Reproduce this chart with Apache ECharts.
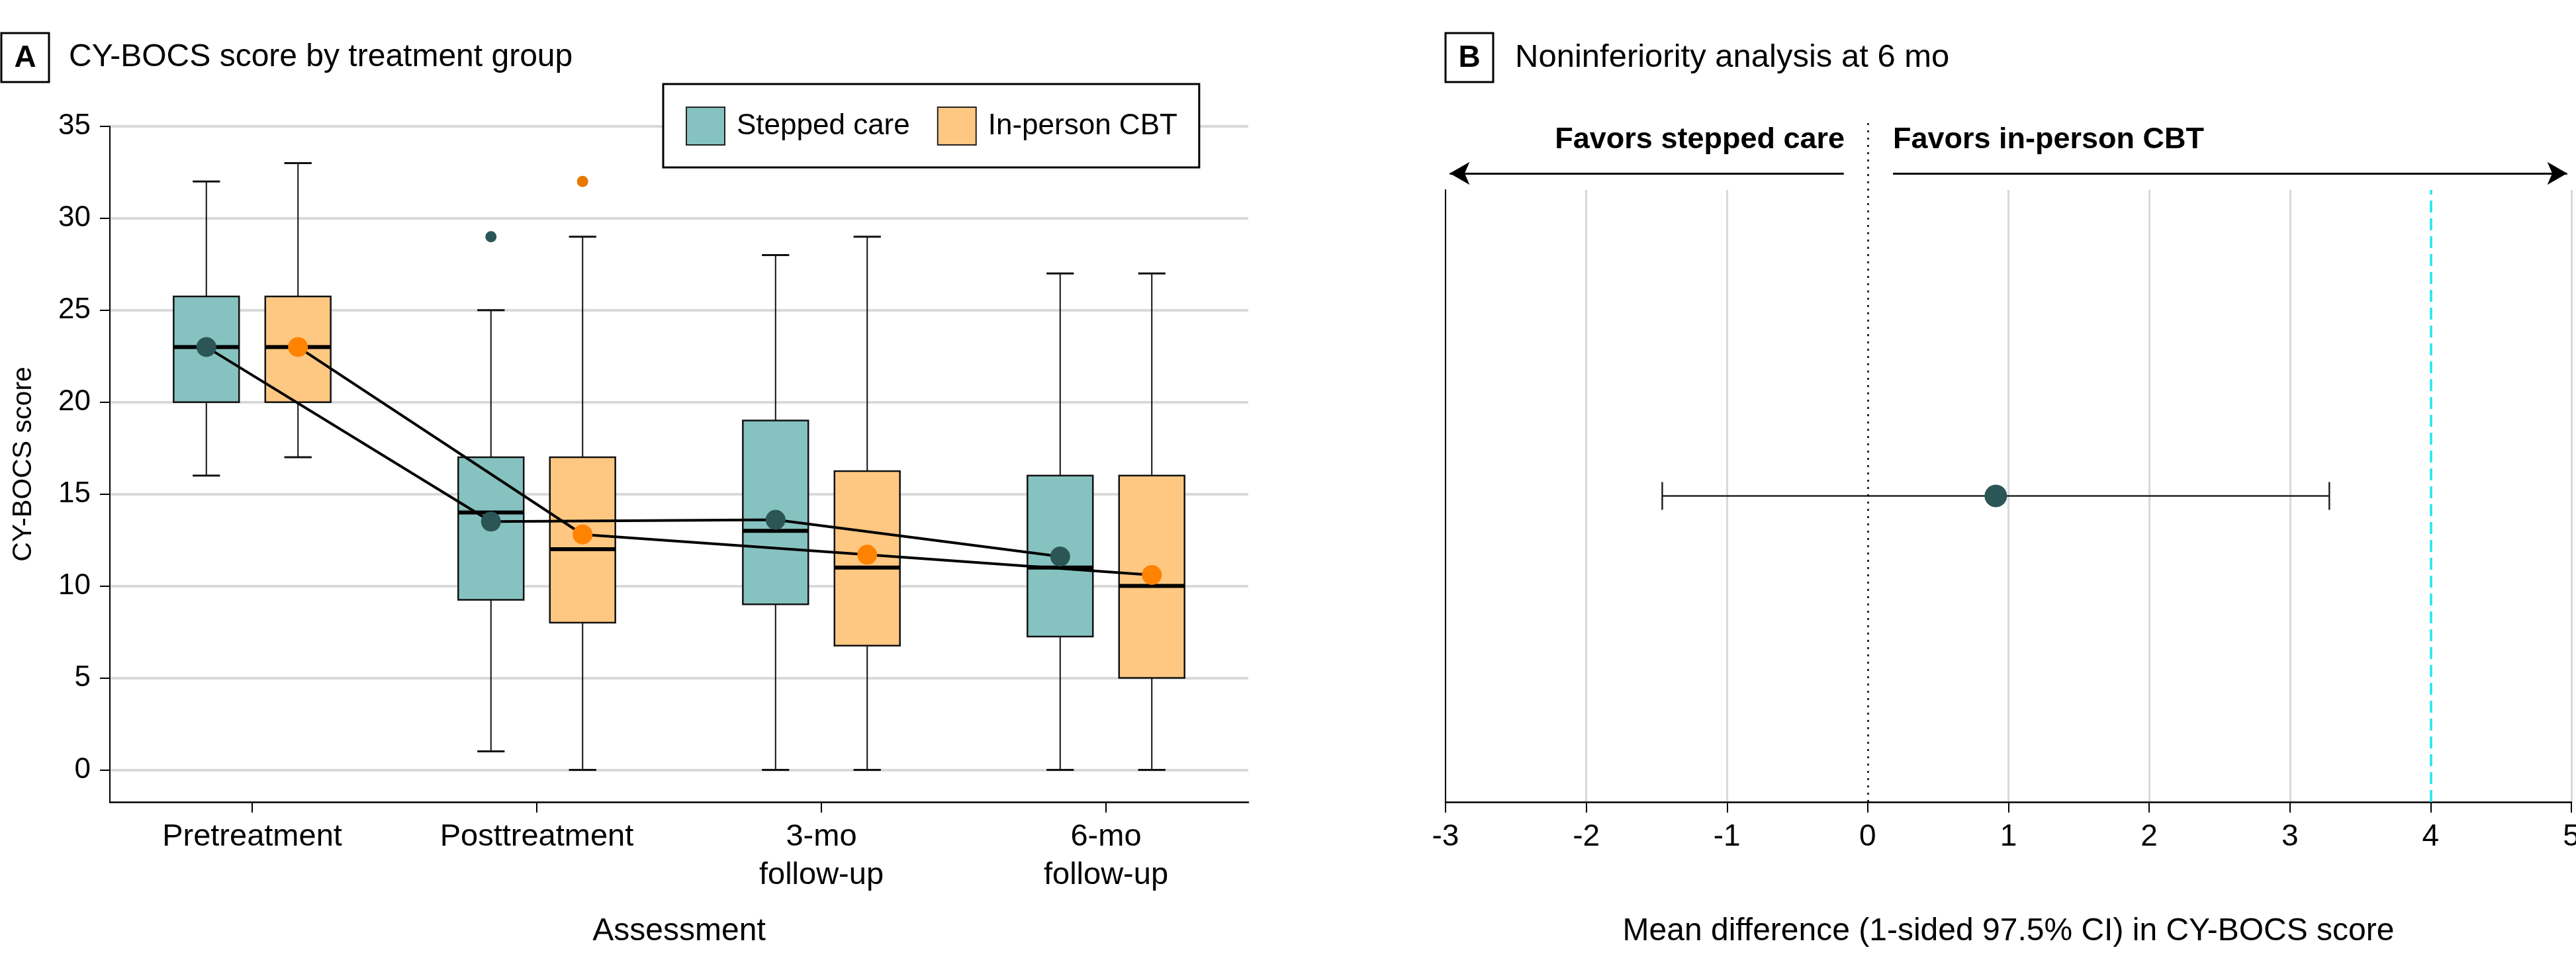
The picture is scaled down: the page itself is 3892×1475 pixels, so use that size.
<!DOCTYPE html>
<html>
<head>
<meta charset="utf-8">
<script src="https://cdn.jsdelivr.net/npm/echarts@6/dist/echarts.min.js"></script>
<style>
  html, body { margin: 0; padding: 0; background: #fff; }
  #chart { width: 3892px; height: 1475px; }
</style>
</head>
<body>
<div id="chart"></div>
<script>
// ---- data ----
const groups = ['Pretreatment', 'Posttreatment', '3-mo\nfollow-up', '6-mo\nfollow-up'];
const scoreTicks = [0, 5, 10, 15, 20, 25, 30, 35];

// stepped care: whisker low, Q1, median, Q3, whisker high, mean
const steppedLow = [16, 1, 0, 0];
const steppedQ1 = [20, 9.25, 9, 7.25];
const steppedMedian = [23, 14, 13, 11];
const steppedQ3 = [25.75, 17, 19, 16];
const steppedHigh = [32, 25, 28, 27];
const steppedMean = [23, 13.5, 13.6, 11.6];
const steppedOutliers = [[1, 29]]; // [group index, score]

// in-person CBT
const cbtLow = [17, 0, 0, 0];
const cbtQ1 = [20, 8, 6.75, 5];
const cbtMedian = [23, 12, 11, 10];
const cbtQ3 = [25.75, 17, 16.25, 16];
const cbtHigh = [33, 29, 29, 27];
const cbtMean = [23, 12.8, 11.7, 10.6];
const cbtOutliers = [[1, 32]];

// panel B: noninferiority at 6 mo
const diffTicks = [-3, -2, -1, 0, 1, 2, 3, 4, 5];
const diffEstimate = [0.91];
const diffLower = [-1.46];
const diffUpper = [3.28];
const niMargin = 4;

// ---- styling ----
const FONT = "'Liberation Sans', Arial, sans-serif";
const TEAL = '#86c2c0';
const ORANGE = '#fec882';
const TEAL_DARK = '#2b5655';
const ORANGE_DARK = '#ff8200';
const GRID_GRAY = '#d9d9d9';

const BOX_SHIFT = 0.161; // box centre offset from category centre (band units)
const BOX_HALF = 0.115;
const CAP_HALF = 0.048;

const chart = echarts.init(document.getElementById('chart'));

function boxRows(low, q1, med, q3, high) {
  return low.map((v, i) => [i, v, q1[i], med[i], q3[i], high[i]]);
}

function boxRenderer(shift, fill) {
  return function (params, api) {
    const x = api.value(0) + shift;
    const pLow = api.coord([x, api.value(1)]);
    const pQ1 = api.coord([x, api.value(2)]);
    const pMed = api.coord([x, api.value(3)]);
    const pQ3 = api.coord([x, api.value(4)]);
    const pHigh = api.coord([x, api.value(5)]);
    const half = api.size([BOX_HALF, 0])[0];
    const cap = api.size([CAP_HALF, 0])[0];
    const cx = pQ1[0];
    const thin = { stroke: '#111', lineWidth: 2 };
    const capStyle = { stroke: '#111', lineWidth: 3 };
    return {
      type: 'group',
      children: [
        { type: 'line', shape: { x1: cx, y1: pHigh[1], x2: cx, y2: pQ3[1] }, style: thin },
        { type: 'line', shape: { x1: cx, y1: pQ1[1], x2: cx, y2: pLow[1] }, style: thin },
        { type: 'line', shape: { x1: cx - cap, y1: pHigh[1], x2: cx + cap, y2: pHigh[1] }, style: capStyle },
        { type: 'line', shape: { x1: cx - cap, y1: pLow[1], x2: cx + cap, y2: pLow[1] }, style: capStyle },
        {
          type: 'rect',
          shape: { x: cx - half, y: pQ3[1], width: half * 2, height: pQ1[1] - pQ3[1] },
          style: { fill: fill, stroke: '#111', lineWidth: 2.5 }
        },
        { type: 'line', shape: { x1: cx - half, y1: pMed[1], x2: cx + half, y2: pMed[1] }, style: { stroke: '#000', lineWidth: 6 } }
      ]
    };
  };
}

function ciRenderer(params, api) {
  const lo = api.coord([api.value(0), api.value(2)]);
  const hi = api.coord([api.value(1), api.value(2)]);
  const style = { stroke: '#222', lineWidth: 2.5 };
  return {
    type: 'group',
    children: [
      { type: 'line', shape: { x1: lo[0], y1: lo[1], x2: hi[0], y2: hi[1] }, style: style },
      { type: 'line', shape: { x1: lo[0], y1: lo[1] - 21, x2: lo[0], y2: lo[1] + 21 }, style: style },
      { type: 'line', shape: { x1: hi[0], y1: hi[1] - 21, x2: hi[0], y2: hi[1] + 21 }, style: style }
    ]
  };
}

const labelText = { color: '#000', fontFamily: FONT };

const option = {
  animation: false,
  backgroundColor: '#fff',
  textStyle: { fontFamily: FONT },
  grid: [
    { left: 166, width: 1720, top: 191, bottom: 263, outerBoundsMode: 'none' },
    { left: 2184, width: 1701, top: 287, bottom: 263, outerBoundsMode: 'none' },
    { left: 2184, width: 1701, top: 185, bottom: 263, outerBoundsMode: 'none' }
  ],
  legend: {
    left: 1002,
    top: 127,
    padding: [34, 33, 33, 34],
    itemWidth: 58,
    itemHeight: 57,
    itemGap: 41,
    selectedMode: false,
    backgroundColor: '#fff',
    borderColor: '#000',
    borderWidth: 3,
    textStyle: Object.assign({ fontSize: 44, padding: [0, 0, 0, 13] }, labelText),
    data: [
      { name: 'Stepped care', icon: 'rect', itemStyle: { color: TEAL, borderColor: '#222', borderWidth: 2 } },
      { name: 'In-person CBT', icon: 'rect', itemStyle: { color: ORANGE, borderColor: '#222', borderWidth: 2 } }
    ]
  },
  xAxis: [
    {
      gridIndex: 0,
      type: 'category',
      data: groups,
      boundaryGap: true,
      name: 'Assessment',
      nameLocation: 'middle',
      nameGap: 172,
      nameTextStyle: Object.assign({ fontSize: 48 }, labelText),
      axisLine: { onZero: false, lineStyle: { color: '#000', width: 2.5 } },
      axisTick: { show: true, alignWithLabel: true, length: 16, lineStyle: { color: '#000', width: 2 } },
      axisLabel: Object.assign({ interval: 0, margin: 24, fontSize: 47, lineHeight: 58 }, labelText),
      splitLine: { show: false }
    },
    {
      gridIndex: 0,
      type: 'value',
      min: -0.5,
      max: groups.length - 0.5,
      show: false
    },
    {
      gridIndex: 1,
      type: 'value',
      min: -3,
      max: 5,
      interval: 1,
      name: 'Mean difference (1-sided 97.5% CI) in CY-BOCS score',
      nameLocation: 'middle',
      nameGap: 172,
      nameTextStyle: Object.assign({ fontSize: 48 }, labelText),
      axisLine: { onZero: false, lineStyle: { color: '#000', width: 2.5 } },
      axisTick: { show: true, length: 16, lineStyle: { color: '#000', width: 2 } },
      axisLabel: Object.assign({ margin: 24, fontSize: 46, lineHeight: 58 }, labelText),
      splitLine: {
        show: true,
        lineStyle: {
          width: 3,
          color: diffTicks.map(t => (t === -3 || t === 0 || t === niMargin) ? 'rgba(0,0,0,0)' : GRID_GRAY)
        }
      }
    },
    {
      gridIndex: 2,
      type: 'value',
      min: -3,
      max: 5,
      show: false
    }
  ],
  yAxis: [
    {
      gridIndex: 0,
      type: 'value',
      min: -1.75,
      max: 35,
      name: 'CY-BOCS score',
      nameLocation: 'middle',
      nameGap: 110,
      nameTextStyle: Object.assign({ fontSize: 41 }, labelText),
      axisLine: { show: true, onZero: false, lineStyle: { color: '#000', width: 2 } },
      axisTick: { show: true, customValues: scoreTicks, length: 15, lineStyle: { color: '#000', width: 2 } },
      axisLabel: Object.assign({ customValues: scoreTicks, margin: 29, fontSize: 44 }, labelText),
      splitLine: { show: true, lineStyle: { color: GRID_GRAY, width: 4 } }
    },
    {
      gridIndex: 1,
      type: 'value',
      min: 0,
      max: 2,
      axisLine: { show: true, onZero: false, lineStyle: { color: '#000', width: 2 } },
      axisTick: { show: false },
      axisLabel: { show: false },
      splitLine: { show: false }
    },
    {
      gridIndex: 2,
      type: 'value',
      min: 0,
      max: 1,
      show: false
    }
  ],
  series: [
    {
      name: 'Stepped care',
      type: 'custom',
      xAxisIndex: 1,
      yAxisIndex: 0,
      z: 2,
      renderItem: boxRenderer(-BOX_SHIFT, TEAL),
      encode: { x: 0, y: [1, 2, 3, 4, 5] },
      data: boxRows(steppedLow, steppedQ1, steppedMedian, steppedQ3, steppedHigh)
    },
    {
      name: 'In-person CBT',
      type: 'custom',
      xAxisIndex: 1,
      yAxisIndex: 0,
      z: 2,
      renderItem: boxRenderer(BOX_SHIFT, ORANGE),
      encode: { x: 0, y: [1, 2, 3, 4, 5] },
      data: boxRows(cbtLow, cbtQ1, cbtMedian, cbtQ3, cbtHigh)
    },
    {
      name: 'Stepped care mean',
      type: 'line',
      xAxisIndex: 1,
      yAxisIndex: 0,
      z: 3,
      symbol: 'circle',
      symbolSize: 30,
      itemStyle: { color: TEAL_DARK, opacity: 1 },
      lineStyle: { color: '#000', width: 4 },
      data: steppedMean.map((m, i) => [i - BOX_SHIFT, m])
    },
    {
      name: 'In-person CBT mean',
      type: 'line',
      xAxisIndex: 1,
      yAxisIndex: 0,
      z: 3,
      symbol: 'circle',
      symbolSize: 30,
      itemStyle: { color: ORANGE_DARK, opacity: 1 },
      lineStyle: { color: '#000', width: 4 },
      data: cbtMean.map((m, i) => [i + BOX_SHIFT, m])
    },
    {
      name: 'Stepped care outlier',
      type: 'scatter',
      xAxisIndex: 1,
      yAxisIndex: 0,
      z: 4,
      symbolSize: 17,
      itemStyle: { color: TEAL_DARK, opacity: 1 },
      data: steppedOutliers.map(([i, v]) => [i - BOX_SHIFT, v])
    },
    {
      name: 'In-person CBT outlier',
      type: 'scatter',
      xAxisIndex: 1,
      yAxisIndex: 0,
      z: 4,
      symbolSize: 17,
      itemStyle: { color: '#e87800', opacity: 1 },
      data: cbtOutliers.map(([i, v]) => [i + BOX_SHIFT, v])
    },
    {
      name: 'Difference CI',
      type: 'custom',
      xAxisIndex: 2,
      yAxisIndex: 1,
      z: 3,
      renderItem: ciRenderer,
      encode: { x: [0, 1], y: 2 },
      data: diffLower.map((lo, i) => [lo, diffUpper[i], 1]),
      markLine: {
        silent: true,
        symbol: 'none',
        label: { show: false },
        lineStyle: { color: '#1ee6f2', type: [18, 9], width: 3.5 },
        data: [{ xAxis: niMargin }]
      }
    },
    {
      name: 'Difference',
      type: 'scatter',
      xAxisIndex: 2,
      yAxisIndex: 1,
      z: 4,
      symbolSize: 34,
      itemStyle: { color: TEAL_DARK, opacity: 1 },
      data: diffEstimate.map(d => [d, 1])
    },
    {
      name: 'Direction',
      type: 'line',
      xAxisIndex: 3,
      yAxisIndex: 2,
      data: [],
      markLine: {
        silent: true,
        label: { show: false },
        symbol: 'none',
        data: [
          { xAxis: 0, lineStyle: { color: '#000', type: [3, 8], width: 2.5 } },
          [
            { coord: [-0.17, 0.925], symbol: 'none', lineStyle: { color: '#000', width: 3, type: 'solid' } },
            { coord: [-2.97, 0.925], symbol: 'arrow', symbolSize: [26, 30] }
          ],
          [
            { coord: [0.18, 0.925], symbol: 'none', lineStyle: { color: '#000', width: 3, type: 'solid' } },
            { coord: [4.97, 0.925], symbol: 'arrow', symbolSize: [26, 30] }
          ]
        ]
      }
    }
  ],
  graphic: [
    { type: 'rect', shape: { x: 2, y: 50, width: 72, height: 74 }, style: { fill: '#fff', stroke: '#000', lineWidth: 3 } },
    { type: 'text', x: 38, y: 88, style: { text: 'A', font: 'bold 46px ' + FONT, fill: '#000', align: 'center', verticalAlign: 'middle' } },
    { type: 'text', x: 104, y: 87, style: { text: 'CY-BOCS score by treatment group', font: '48px ' + FONT, fill: '#000', align: 'left', verticalAlign: 'middle' } },
    { type: 'rect', shape: { x: 2184, y: 50, width: 72, height: 74 }, style: { fill: '#fff', stroke: '#000', lineWidth: 3 } },
    { type: 'text', x: 2220, y: 88, style: { text: 'B', font: 'bold 46px ' + FONT, fill: '#000', align: 'center', verticalAlign: 'middle' } },
    { type: 'text', x: 2289, y: 87, style: { text: 'Noninferiority analysis at 6 mo', font: '49px ' + FONT, fill: '#000', align: 'left', verticalAlign: 'middle' } },
    { type: 'text', x: 2787, y: 212, style: { text: 'Favors stepped care', font: 'bold 45px ' + FONT, fill: '#000', align: 'right', verticalAlign: 'middle' } },
    { type: 'text', x: 2860, y: 212, style: { text: 'Favors in-person CBT', font: 'bold 45px ' + FONT, fill: '#000', align: 'left', verticalAlign: 'middle' } }
  ]
};

chart.setOption(option);
window.addEventListener('resize', () => chart.resize());
</script>
</body>
</html>
